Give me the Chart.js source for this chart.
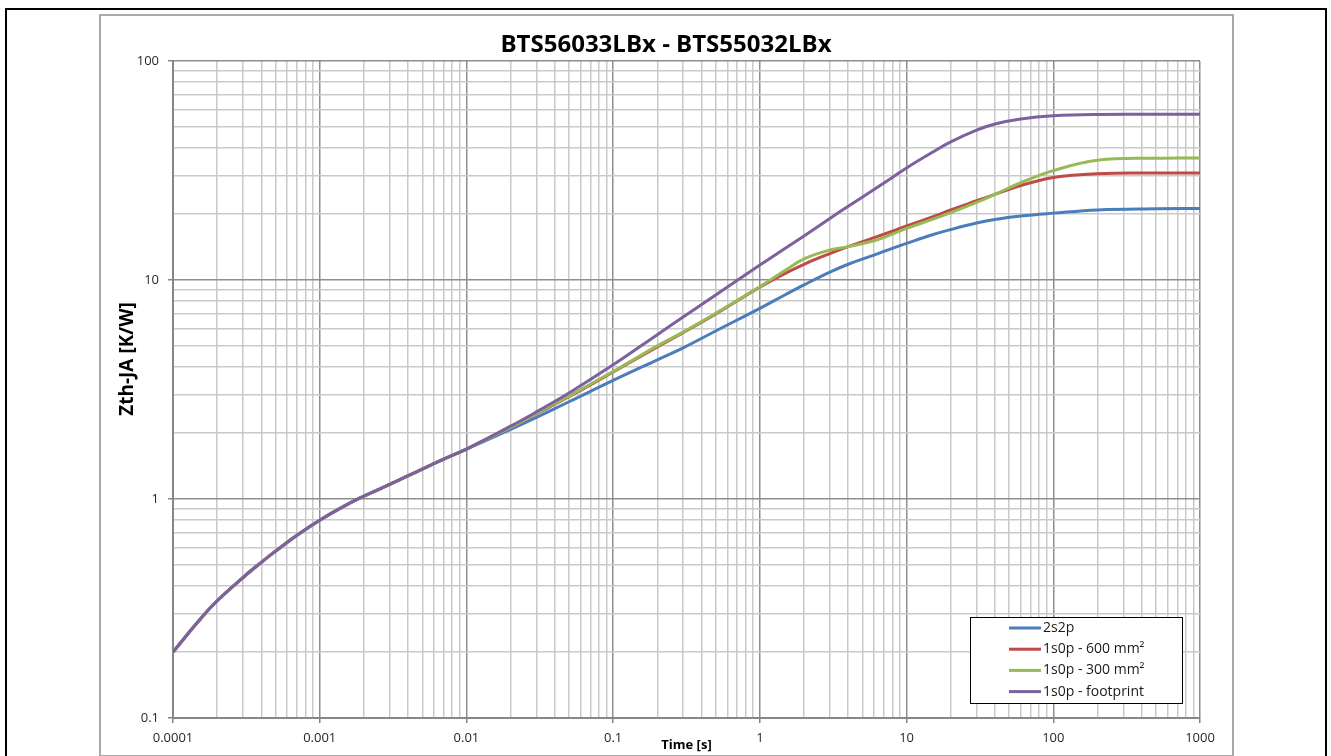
<!DOCTYPE html>
<html>
<head>
<meta charset="utf-8">
<title>BTS56033LBx - BTS55032LBx</title>
<script src="https://cdn.jsdelivr.net/npm/chart.js@4.4.1/dist/chart.umd.min.js"></script>
<style>
    html, body { margin: 0; padding: 0; overflow: hidden; background: #fff; width: 1331px; height: 756px; }
    #outer { position: absolute; left: 5px; top: 8px; width: 1322px; height: 800px; border: 2px solid #000; box-sizing: border-box; }
    #frame { position: absolute; left: 99px; top: 14px; width: 1135px; height: 743px; border: 2px solid #a9a9a9; box-sizing: border-box; }
    #wrap { position: absolute; left: 100px; top: 15px; width: 1132px; height: 740px; }
</style>
</head>
<body>
<div id="outer"></div>
<div id="frame"></div>
<div id="wrap"><canvas id="myChart"></canvas></div>
<script>
const chartTitle = 'BTS56033LBx - BTS55032LBx';
const xTitle = 'Time [s]';
const yTitle = 'Zth-JA [K/W]';

// time points [s]
const times = [0.0001, 0.00015, 0.0002, 0.0003, 0.0004, 0.0005, 0.0007, 0.001, 0.0015, 0.002, 0.003, 0.005, 0.007, 0.01,
    0.02, 0.03, 0.05, 0.1, 0.2, 0.3, 0.5, 1, 1.5, 2, 3, 4, 6, 8, 10, 15, 20, 30, 40, 60, 100, 200, 500, 1000];

// Zth-JA [K/W] (all curves coincide up to 0.01 s)
const z2s2p = [0.2, 0.278, 0.343, 0.438, 0.514, 0.578, 0.683, 0.80, 0.935, 1.03, 1.165, 1.37, 1.52, 1.69,
    2.08, 2.36, 2.78, 3.48, 4.32, 4.9, 5.85, 7.42, 8.59, 9.5, 10.86, 11.8, 13.0, 13.95, 14.7, 16.1, 17.0, 18.2, 18.9, 19.6, 20.2, 20.9, 21.15, 21.2];
const z600 = [0.2, 0.278, 0.343, 0.438, 0.514, 0.578, 0.683, 0.80, 0.935, 1.03, 1.165, 1.37, 1.52, 1.69,
    2.12, 2.45, 2.93, 3.8, 4.95, 5.75, 7.0, 9.28, 10.75, 11.8, 13.2, 14.2, 15.6, 16.7, 17.65, 19.4, 20.9, 23.0, 24.6, 27.0, 29.4, 30.6, 30.8, 30.8];
const z300 = [0.2, 0.278, 0.343, 0.438, 0.514, 0.578, 0.683, 0.80, 0.935, 1.03, 1.165, 1.37, 1.52, 1.69,
    2.12, 2.46, 2.95, 3.82, 5.0, 5.78, 7.05, 9.32, 11.1, 12.5, 13.7, 14.2, 15.1, 16.2, 17.2, 18.9, 20.3, 22.6, 24.6, 27.8, 31.6, 35.2, 36.0, 36.1];
const zFoot = [0.2, 0.278, 0.343, 0.438, 0.514, 0.578, 0.683, 0.80, 0.935, 1.03, 1.165, 1.37, 1.52, 1.69,
    2.15, 2.5, 3.05, 4.1, 5.63, 6.77, 8.54, 11.7, 14.0, 15.9, 19.1, 21.7, 25.9, 29.4, 32.5, 38.3, 42.7, 48.3, 51.6, 54.4, 56.2, 57.0, 57.1, 57.1];

const seriesNames = ['2s2p', '1s0p - 600 mm²', '1s0p - 300 mm²', '1s0p - footprint'];
const seriesValues = [z2s2p, z600, z300, zFoot];
const seriesColors = ['#4A7EBB', '#BE4B48', '#98B954', '#7D60A0'];

const xDecades = [0.0001, 0.001, 0.01, 0.1, 1, 10, 100, 1000];
const xTickLabels = ['0.0001', '0.001', '0.01', '0.1', '1', '10', '100', '1000'];
const yDecades = [0.1, 1, 10, 100];
const yTickLabels = ['0.1', '1', '10', '100'];
const minorSteps = [1, 2, 3, 4, 5, 6, 7, 8, 9];

const fontFamily = "'Open Sans', 'Liberation Sans', sans-serif";

function logTicks(decades) {
    const out = [];
    decades.forEach((d, i) => {
        if (i === decades.length - 1) {
            out.push({ value: d });
            return;
        }
        minorSteps.forEach(m => out.push({ value: Number((d * m).toPrecision(6)) }));
    });
    return out;
}

function decadeIndex(decades, v) {
    return decades.findIndex(d => Math.abs(v / d - 1) < 1e-6);
}

function gridFor(decades) {
    return {
        color: c => (c.tick && decadeIndex(decades, c.tick.value) >= 0) ? '#8e8e8e' : '#c9c9c9',
        lineWidth: 1.5,
        tickLength: 5,
        tickWidth: 1.5,
        tickColor: c => (c.tick && decadeIndex(decades, c.tick.value) >= 0) ? '#868686' : 'rgba(0,0,0,0)'
    };
}

// legend box and rotated y title, drawn on top of the plot
const extras = {
    id: 'extras',
    afterDraw(chart) {
        const { ctx, chartArea } = chart;
        ctx.save();

        ctx.font = 'bold 19px ' + fontFamily;
        ctx.fillStyle = '#000';
        ctx.textAlign = 'center';
        ctx.textBaseline = 'middle';
        ctx.translate(28, 344);
        ctx.rotate(-Math.PI / 2);
        ctx.fillText(yTitle, 0, 0);
        ctx.restore();

        ctx.save();
        const bx = chartArea.right - 230;
        const by = chartArea.bottom - 101;
        ctx.fillStyle = '#fff';
        ctx.fillRect(bx, by, 212, 86);
        ctx.strokeStyle = '#000';
        ctx.lineWidth = 1;
        ctx.strokeRect(bx + 0.5, by + 0.5, 212, 86);
        ctx.font = '14px ' + fontFamily;
        ctx.textAlign = 'left';
        ctx.textBaseline = 'middle';
        chart.data.datasets.forEach((ds, i) => {
            const ry = by + 11 + i * 21.2;
            ctx.strokeStyle = ds.borderColor;
            ctx.lineWidth = 3;
            ctx.beginPath();
            ctx.moveTo(bx + 39, ry);
            ctx.lineTo(bx + 71, ry);
            ctx.stroke();
            ctx.fillStyle = '#1a1a1a';
            ctx.fillText(ds.label, bx + 73, ry);
        });
        ctx.restore();
    }
};

document.addEventListener('DOMContentLoaded', function () {
    const ctx = document.getElementById('myChart').getContext('2d');

    const datasets = seriesNames.map((name, i) => ({
        label: name,
        data: times.map((t, j) => ({ x: t, y: seriesValues[i][j] })),
        borderColor: seriesColors[i],
        backgroundColor: seriesColors[i],
        borderWidth: 3,
        pointRadius: 0,
        fill: false,
        tension: 0.4,
        order: seriesNames.length - 1 - i
    }));

    new Chart(ctx, {
        type: 'line',
        data: { datasets: datasets },
        options: {
            responsive: true,
            maintainAspectRatio: false,
            animation: false,
            layout: { padding: { left: 32, right: 32, top: 0, bottom: 0 } },
            plugins: {
                legend: { display: false },
                tooltip: { enabled: false },
                title: {
                    display: true,
                    text: chartTitle,
                    color: '#000',
                    font: { family: fontFamily, size: 24, weight: 'bold' },
                    padding: { top: 15.6, bottom: 1.6 }
                }
            },
            scales: {
                x: {
                    type: 'logarithmic',
                    min: 0.0001,
                    max: 1000,
                    afterBuildTicks: scale => { scale.ticks = logTicks(xDecades); },
                    afterFit: scale => { scale.height = 37; },
                    grid: gridFor(xDecades),
                    border: { display: true, color: '#868686', width: 2 },
                    ticks: {
                        autoSkip: false,
                        maxRotation: 0,
                        padding: 7,
                        color: '#262626',
                        font: { family: fontFamily, size: 13 },
                        callback: v => { const k = decadeIndex(xDecades, v); return k >= 0 ? xTickLabels[k] : ''; }
                    },
                    title: {
                        display: true,
                        text: xTitle,
                        color: '#000',
                        font: { family: fontFamily, size: 13, weight: 'bold' },
                        padding: { top: 0, bottom: 2 }
                    }
                },
                y: {
                    type: 'logarithmic',
                    min: 0.1,
                    max: 100,
                    afterBuildTicks: scale => { scale.ticks = logTicks(yDecades); },
                    afterFit: scale => { scale.width = 41; },
                    grid: gridFor(yDecades),
                    border: { display: true, color: '#868686', width: 2 },
                    ticks: {
                        autoSkip: false,
                        padding: 9,
                        color: '#262626',
                        font: { family: fontFamily, size: 13 },
                        callback: v => { const k = decadeIndex(yDecades, v); return k >= 0 ? yTickLabels[k] : ''; }
                    }
                }
            }
        },
        plugins: [extras]
    });
});
</script>
</body>
</html>
